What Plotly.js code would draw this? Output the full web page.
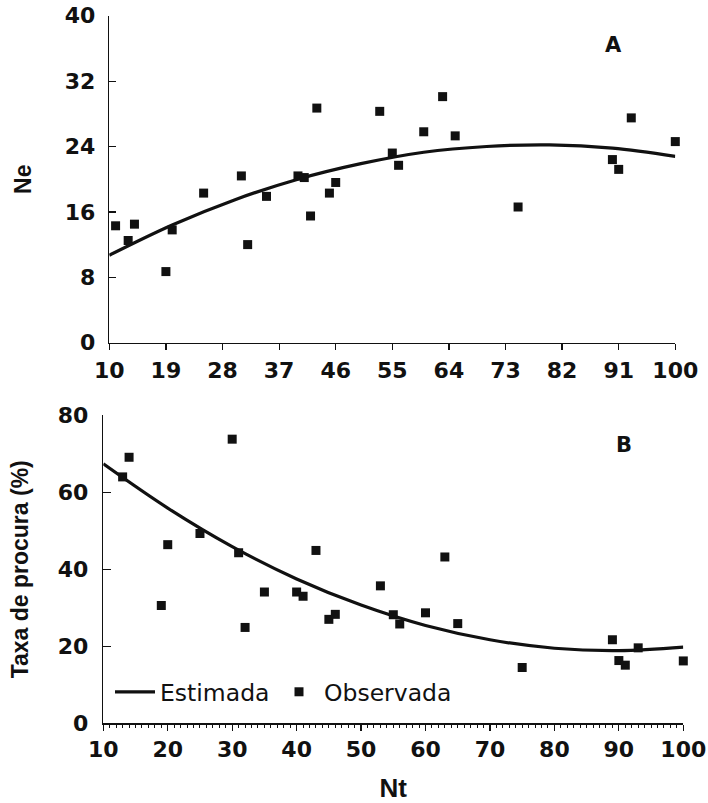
<!DOCTYPE html>
<html>
<head>
<meta charset="utf-8">
<script src="https://cdn.plot.ly/plotly-3.0.1.min.js"></script>
<style>html,body{margin:0;padding:0;background:#fff}#chart{width:708px;height:803px}</style>
</head>
<body>
<div id="chart"></div>
<script>
// Panel A (Ne) observed
var ntA = [11, 13, 14, 19, 20, 25, 31, 32, 35, 40, 41, 42, 43, 45, 46, 53, 55, 56, 60, 63, 65, 75, 90, 91, 93, 100];
var neObs = [14.3, 12.5, 14.5, 8.7, 13.8, 18.3, 20.4, 12.0, 17.9, 20.4, 20.2, 15.5, 28.7, 18.3, 19.6, 28.3, 23.2, 21.7, 25.8, 30.1, 25.3, 16.6, 22.4, 21.2, 27.5, 24.6];
// Panel A fitted curve
var ntFit = [10, 20, 30, 40, 50, 60, 70, 80, 90, 100];
var neFit = [10.7, 14.4, 17.5, 20.0, 21.9, 23.3, 24.0, 24.2, 23.8, 22.8];
// Panel B (Taxa de procura) observed
var ntB = [13, 14, 19, 20, 25, 30, 31, 32, 35, 40, 41, 43, 45, 46, 53, 55, 56, 60, 63, 65, 75, 89, 90, 91, 93, 100];
var taxaObs = [64.0, 69.1, 30.6, 46.4, 49.3, 73.8, 44.3, 24.9, 34.1, 34.1, 33.0, 44.9, 27.0, 28.3, 35.7, 28.2, 25.8, 28.7, 43.2, 25.9, 14.5, 21.7, 16.3, 15.1, 19.6, 16.2];
// Panel B fitted curve
var taxaFit = [67.4, 55.9, 45.9, 37.5, 30.7, 25.4, 21.7, 19.5, 18.9, 19.8];
var topTicks = [10, 19, 28, 37, 46, 55, 64, 73, 82, 91, 100];

var FONT = 'Liberation Sans, Arial, sans-serif';
var WIDE = 'DejaVu Sans, Verdana, sans-serif';
var W = 708, H = 803;

var traces = [
  {x: ntFit, y: neFit, mode: 'lines', line: {color: '#111', width: 3.2, shape: 'spline'}, xaxis: 'x', yaxis: 'y', showlegend: false, hoverinfo: 'skip', cliponaxis: false},
  {x: ntA, y: neObs, mode: 'markers', marker: {symbol: 'square', size: 9, color: '#111'}, xaxis: 'x', yaxis: 'y', showlegend: false, cliponaxis: false},
  {x: ntFit, y: taxaFit, mode: 'lines', name: 'Estimada', legend: 'legend', line: {color: '#111', width: 3.2, shape: 'spline'}, xaxis: 'x2', yaxis: 'y2', cliponaxis: false},
  {x: ntB, y: taxaObs, mode: 'markers', name: 'Observada', legend: 'legend2', marker: {symbol: 'square', size: 9, color: '#111'}, xaxis: 'x2', yaxis: 'y2', cliponaxis: false}
];

var axBase = {
  showgrid: false, zeroline: false, showline: true, linecolor: '#111', linewidth: 1.5,
  tickcolor: '#111', tickwidth: 1.2,
  tickfont: {family: WIDE, size: 22, color: '#111', weight: 700}
};

var legBase = {
  orientation: 'h', y: 1 - 692 / H, xanchor: 'left', yanchor: 'middle',
  font: {family: WIDE, size: 23.5, color: '#111'}, bgcolor: 'rgba(0,0,0,0)',
  itemwidth: 40, tracegroupgap: 0
};

var layout = {
  width: W, height: H,
  margin: {l: 0, r: 0, t: 0, b: 0},
  paper_bgcolor: '#fff', plot_bgcolor: '#fff',
  showlegend: true,
  legend: Object.assign({}, legBase, {x: 110 / W}),
  legend2: Object.assign({}, legBase, {x: 274 / W}),
  xaxis: Object.assign({}, axBase, {
    domain: [109.3 / W, 675.3 / W], anchor: 'y', range: [10, 100],
    tickmode: 'array', tickvals: topTicks, ticktext: topTicks.map(String),
    ticks: 'outside', ticklen: 6, ticklabelstandoff: 1
  }),
  yaxis: Object.assign({}, axBase, {
    domain: [1 - 342.7 / H, 1 - 15.7 / H], anchor: 'x', range: [0, 40],
    tick0: 0, dtick: 8, ticks: 'inside', ticklen: 7, ticklabelstandoff: 8,
    title: {text: 'Ne', font: {family: FONT, size: 23, color: '#111', weight: 700}, standoff: 26}
  }),
  xaxis2: Object.assign({}, axBase, {
    domain: [103.3 / W, 683.3 / W], anchor: 'y2', range: [10, 100],
    tick0: 10, dtick: 10, ticks: 'outside', ticklen: 6, ticklabelstandoff: 0,
    minor: {dtick: 1, ticks: 'outside', ticklen: 3, tickcolor: '#111', tickwidth: 1},
    title: {text: 'Nt', font: {family: FONT, size: 26, color: '#111', weight: 700}, standoff: 20}
  }),
  yaxis2: Object.assign({}, axBase, {
    domain: [1 - 723.3 / H, 1 - 415.3 / H], anchor: 'x2', range: [0, 80],
    tick0: 0, dtick: 20, ticks: 'inside', ticklen: 8, ticklabelstandoff: 9,
    title: {text: 'Taxa de procura (%)', font: {family: FONT, size: 23, color: '#111', weight: 700}, standoff: 22}
  }),
  annotations: [
    {text: 'A', x: 613 / W, y: 1 - 45 / H, xref: 'paper', yref: 'paper', xanchor: 'center', yanchor: 'middle', showarrow: false,
     font: {family: WIDE, size: 21, color: '#111', weight: 700}},
    {text: 'B', x: 624 / W, y: 1 - 445 / H, xref: 'paper', yref: 'paper', xanchor: 'center', yanchor: 'middle', showarrow: false,
     font: {family: WIDE, size: 21, color: '#111', weight: 700}}
  ]
};

Plotly.newPlot('chart', traces, layout, {staticPlot: true, displayModeBar: false});
</script>
</body>
</html>
